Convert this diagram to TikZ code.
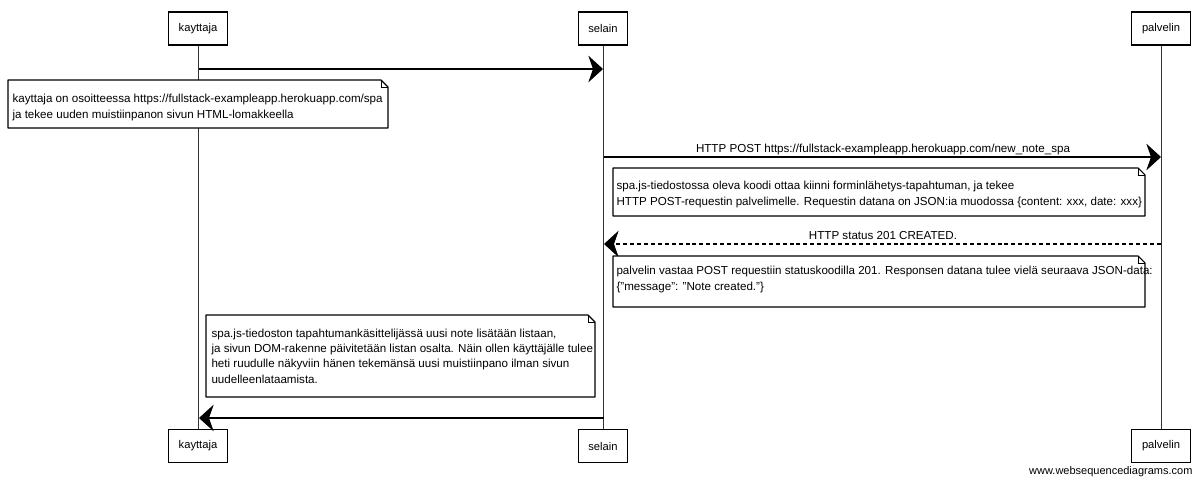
\documentclass[tikz,border=0pt]{standalone}
\usepackage{fontspec}
\setmainfont{Liberation Sans}
\usetikzlibrary{arrows.meta}
\begin{document}
\begin{tikzpicture}[x=0.75pt,y=-0.75pt,
  line width=0.8pt,
  actor/.style={draw, fill=white, font=\fontsize{8.4}{10}\selectfont,
    minimum height=24.75pt, inner xsep=7.6pt, inner ysep=0pt},
  lifeline/.style={draw, line width=0.7pt, black!80},
  msg/.style={draw, -{Stealth[length=11pt, width=20pt, inset=3.5pt]}},
  reply/.style={msg, dash pattern=on 3pt off 2.2pt},
  msglabel/.style={font=\fontsize{8.7}{10}\selectfont, inner sep=0pt, anchor=base},
  notetext/.style={font=\fontsize{8.7}{11.4}\selectfont, inner sep=0pt,
    align=left, anchor=base west},
  notebox/.style={draw, fill=white, line join=round}]
\useasboundingbox (0,0) rectangle (1200,482);

% participants, top and bottom
\node[actor] (kt) at (198,28.5) {kayttaja};
\node[actor] (st) at (603,28.5) {selain};
\node[actor] (pt) at (1161,28.5) {palvelin};
\node[actor] (kb) at (198,446) {kayttaja};
\node[actor] (sb) at (603,446) {selain};
\node[actor] (pb) at (1161,446) {palvelin};

% lifelines
\draw[lifeline] (kt) -- (kb);
\draw[lifeline] (st) -- (sb);
\draw[lifeline] (pt) -- (pb);

% message end points on the lifelines
\coordinate (k1) at (199,69);   \coordinate (s1) at (603,69);
\coordinate (s2) at (604,157);  \coordinate (p2) at (1161,157);
\coordinate (p3) at (1161,244); \coordinate (s3) at (604,244);
\coordinate (s4) at (604,418);  \coordinate (k4) at (199,418);

% note: folded-corner box
\newcommand{\notepaper}[4]{%
  \draw[notebox] (#1,#2) -- (#3-7,#2) -- (#3,#2+7) -- (#3,#4) -- (#1,#4) -- cycle;
  \draw[line width=0.6pt] (#3-7,#2) -- (#3-7,#2+7) -- (#3,#2+7);}

% text nodes are placed at the baseline of their last line

% 1: user fills in the form
\draw[msg] (k1) -- (s1);
\notepaper{8}{80}{388}{128}
\node[notetext] (n1) at (12,118) {kayttaja on osoitteessa https://fullstack-exampleapp.herokuapp.com/spa\\
ja tekee uuden muistiinpanon sivun HTML-lomakkeella};

% 2: POST to the server
\draw[msg] (s2) -- (p2);
\node[msglabel] (l2) at (883,152) {HTTP POST https://fullstack-exampleapp.herokuapp.com/new\_note\_spa};
\notepaper{613}{168}{1145}{216}
\node[notetext] (n2) at (616,205) {spa.js-tiedostossa oleva koodi ottaa kiinni forminlähetys-tapahtuman, ja tekee\\
HTTP POST-requestin palvelimelle. Requestin datana on JSON:ia muodossa \{content: xxx, date: xxx\}};

% 3: server reply
\draw[reply] (p3) -- (s3);
\node[msglabel] (l3) at (883,239) {HTTP status 201 CREATED.};
\notepaper{613}{256}{1145}{307}
\node[notetext] (n3) at (616,290) {palvelin vastaa POST requestiin statuskoodilla 201. Responsen datana tulee vielä seuraava JSON-data:\\
\{"message": "Note created."\}};

% 4: page updated in the browser
\notepaper{206}{315}{595}{397}
\node[notetext] (n4) at (211,383) {spa.js-tiedoston tapahtumankäsittelijässä uusi note lisätään listaan,\\
ja sivun DOM-rakenne päivitetään listan osalta. Näin ollen käyttäjälle tulee\\
heti ruudulle näkyviin hänen tekemänsä uusi muistiinpano ilman sivun\\
uudelleenlataamista.};
\draw[msg] (s4) -- (k4);

% footer
\node[font=\fontsize{8.25}{10}\selectfont, inner sep=0pt, anchor=base east] (www) at (1193,474) {www.websequencediagrams.com};
\end{tikzpicture}
\end{document}
